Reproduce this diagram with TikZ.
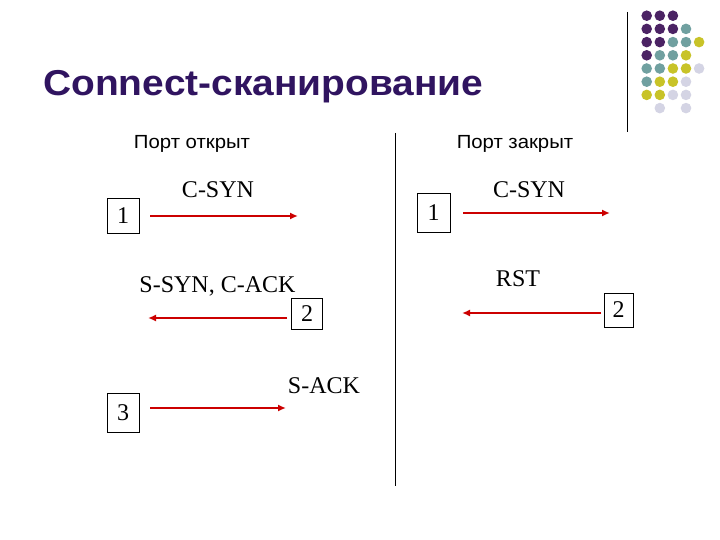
\documentclass[tikz,border=0pt]{standalone}
\usepackage{fontspec}
\setmainfont{Liberation Serif}
\setsansfont{Liberation Sans}
\usetikzlibrary{arrows.meta}
\definecolor{titlecol}{RGB}{48,20,96}
\definecolor{dotP}{RGB}{75,35,100}
\definecolor{dotT}{RGB}{112,160,160}
\definecolor{dotY}{RGB}{200,195,40}
\definecolor{dotL}{RGB}{212,212,228}
\definecolor{arrowred}{RGB}{204,0,0}
\tikzset{
  numbox/.style={draw=black, line width=0.8pt, minimum width=32pt, minimum height=35pt, inner sep=0pt, font=\fontsize{24}{26}\selectfont},
  msg/.style={anchor=base, inner sep=0pt, font=\fontsize{24}{26}\selectfont},
  port/.style={anchor=base, inner sep=0pt, font=\sffamily\fontsize{19}{22}\selectfont},
  sig/.style={draw=arrowred, line width=2.4pt, -{Latex[length=8pt,width=7pt]}},
}
\begin{document}
\begin{tikzpicture}[x=1pt,y=-1pt]
\useasboundingbox (0,0) rectangle (720,540);
\fill[white] (0,0) rectangle (720,540);
% decoration
\draw[line width=1pt] (627,12) -- (627,132);
\foreach \c/\r/\col in {0/0/dotP,1/0/dotP,2/0/dotP,
  0/1/dotP,1/1/dotP,2/1/dotP,3/1/dotT,
  0/2/dotP,1/2/dotP,2/2/dotT,3/2/dotT,4/2/dotY,
  0/3/dotP,1/3/dotT,2/3/dotT,3/3/dotY,
  0/4/dotT,1/4/dotT,2/4/dotY,3/4/dotY,4/4/dotL,
  0/5/dotT,1/5/dotY,2/5/dotY,3/5/dotL,
  0/6/dotY,1/6/dotY,2/6/dotL,3/6/dotL,
  1/7/dotL,3/7/dotL}
  \fill[\col] ({646.7+13.1*\c},{15.7+13.2*\r}) circle (5.3pt);
% title
\node[anchor=base west, inner sep=0pt, text=titlecol, font=\sffamily\bfseries\fontsize{36}{40}\selectfont] (title) at (43,96) {\scalebox{1.08}[1]{Connect-сканирование}};
% headers
\node[port] (hopen) at (192,149) {\scalebox{1.07}[1]{Порт открыт}};
\node[port] (hclosed) at (515,149) {\scalebox{1.07}[1]{Порт закрыт}};
% divider
\coordinate (divtop) at (395,133);
\coordinate (divbot) at (395,486);
\draw[line width=0.8pt] (divtop) -- (divbot);
% left side
\node[numbox] (b1) at (123,216) {1};
\node[msg] (l1) at (218,198) {C-SYN};
\coordinate (a1s) at (150,216);
\coordinate (a1e) at (298,216);
\draw[sig] (a1s) -- (a1e);

\node[msg] (l2) at (217.5,292) {S-SYN, C-ACK};
\node[numbox, minimum width=31pt, minimum height=31pt] (b2) at (307,313.5) {2};
\coordinate (a2s) at (287,318);
\coordinate (a2e) at (148,318);
\draw[sig] (a2s) -- (a2e);

\node[msg] (l3) at (324,393) {S-ACK};
\node[numbox, minimum height=39pt] (b3) at (123,412.5) {3};
\coordinate (a3s) at (150,408);
\coordinate (a3e) at (286,408);
\draw[sig] (a3s) -- (a3e);
% right side
\node[numbox, minimum width=33pt, minimum height=39pt] (r1) at (433.5,212.5) {1};
\node[msg] (rl1) at (529,198) {C-SYN};
\coordinate (r1s) at (463,213);
\coordinate (r1e) at (610,213);
\draw[sig] (r1s) -- (r1e);

\node[msg] (rl2) at (518,286) {RST};
\node[numbox, minimum width=29pt, minimum height=34pt] (r2) at (618.5,310) {2};
\coordinate (r2s) at (601,313);
\coordinate (r2e) at (462,313);
\draw[sig] (r2s) -- (r2e);
\end{tikzpicture}
\end{document}
